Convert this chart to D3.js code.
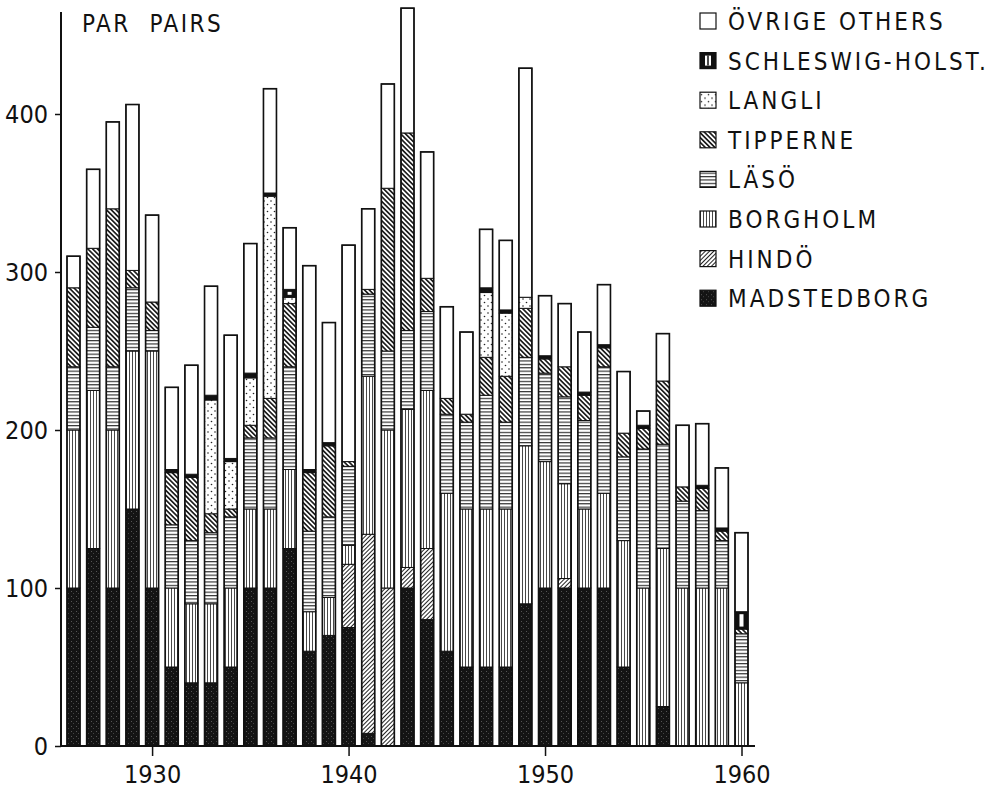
<!DOCTYPE html>
<html>
<head>
<meta charset="utf-8">
<script src="https://cdn.jsdelivr.net/npm/d3@7"></script>
<style>
  body { margin: 0; background: #fff; }
  svg text { font-family: "DejaVu Sans Condensed", "DejaVu Sans", sans-serif; fill: #111; }
</style>
</head>
<body>
<div id="chart"></div>
<script>
// breeding pairs per colony, 1926-1960
var years = [1926,1927,1928,1929,1930,1931,1932,1933,1934,1935,1936,1937,1938,1939,1940,1941,1942,1943,
             1944,1945,1946,1947,1948,1949,1950,1951,1952,1953,1954,1955,1956,1957,1958,1959,1960];
var madstedborg = [100,125,100,150,100,50,40,40,50,100,100,125,60,70,75,8,0,100,80,60,50,50,50,90,100,100,100,100,50,0,25,0,0,0,0];
var hindo       = [0,0,0,0,0,0,0,0,0,0,0,0,0,0,40,126,100,13,45,0,0,0,0,0,0,6,0,0,0,0,0,0,0,0,0];
var borgholm    = [100,100,100,100,150,50,50,50,50,50,50,50,25,24,12,100,100,100,100,100,100,100,100,100,80,60,50,60,80,100,100,100,100,100,40];
var laso        = [40,40,40,40,13,40,40,45,45,45,45,65,51,51,50,52,50,50,50,50,55,72,55,56,56,55,56,80,53,88,66,55,49,30,31];
var tipperne    = [50,50,100,11,18,33,40,12,5,8,25,40,37,45,3,3,103,125,21,10,5,24,29,31,9,19,16,12,15,13,40,9,14,6,3];
var langli      = [0,0,0,0,0,0,0,72,30,30,128,4,0,0,0,0,0,0,0,0,0,41,40,7,0,0,0,0,0,0,0,0,0,0,0];
var schleswig   = [0,0,0,0,0,2,2,3,2,3,2,5,2,2,0,0,0,0,0,0,0,3,2,0,2,0,2,2,0,2,0,0,2,2,11];
var ovrige      = [20,50,55,105,55,52,69,69,78,82,66,39,129,76,137,51,66,79,80,58,52,37,44,145,38,40,38,38,39,9,30,39,39,38,50];

var keys = ["mad","hin","bor","las","tip","lan","sch","ovr"];
var legendLabels = ["ÖVRIGE OTHERS","SCHLESWIG-HOLST.","LANGLI","TIPPERNE","LÄSÖ","BORGHOLM","HINDÖ","MADSTEDBORG"];
var legendKeys = ["ovr","sch","lan","tip","las","bor","hin","mad"];
var yTicks = [0,100,200,300,400];
var xTicks = [1930,1940,1950,1960];

var width = 1007, height = 789;

var rows = years.map(function(y, i) {
  return { year: y, mad: madstedborg[i], hin: hindo[i], bor: borgholm[i], las: laso[i],
           tip: tipperne[i], lan: langli[i], sch: schleswig[i], ovr: ovrige[i] };
});

var svg = d3.select("#chart").append("svg")
  .attr("width", width)
  .attr("height", height);

var defs = svg.append("defs");

// dark speckled fill
var pm = defs.append("pattern").attr("id", "p-mad").attr("patternUnits", "userSpaceOnUse")
  .attr("width", 5).attr("height", 5);
pm.append("rect").attr("width", 5).attr("height", 5).attr("fill", "#141414");
pm.append("rect").attr("x", 1).attr("y", 1).attr("width", 1).attr("height", 1).attr("fill", "#555");
pm.append("rect").attr("x", 3).attr("y", 3).attr("width", 1).attr("height", 1).attr("fill", "#444");

// diagonal "/" fine
var ph = defs.append("pattern").attr("id", "p-hin").attr("patternUnits", "userSpaceOnUse")
  .attr("width", 3).attr("height", 6).attr("patternTransform", "rotate(45)");
ph.append("rect").attr("width", 3).attr("height", 6).attr("fill", "#fff");
ph.append("line").attr("x1", 1.5).attr("x2", 1.5).attr("y1", 0).attr("y2", 6).attr("stroke", "#222").attr("stroke-width", 1);

// vertical lines
var pb = defs.append("pattern").attr("id", "p-bor").attr("patternUnits", "userSpaceOnUse")
  .attr("width", 3).attr("height", 6);
pb.append("rect").attr("width", 3).attr("height", 6).attr("fill", "#fff");
pb.append("line").attr("x1", 0.5).attr("x2", 0.5).attr("y1", 0).attr("y2", 6).attr("stroke", "#333").attr("stroke-width", 0.9);

// horizontal lines
var pl = defs.append("pattern").attr("id", "p-las").attr("patternUnits", "userSpaceOnUse")
  .attr("width", 6).attr("height", 3.4);
pl.append("rect").attr("width", 6).attr("height", 3.4).attr("fill", "#fff");
pl.append("line").attr("x1", 0).attr("x2", 6).attr("y1", 0.6).attr("y2", 0.6).attr("stroke", "#222").attr("stroke-width", 1.1);

// diagonal "\" bold
var pt = defs.append("pattern").attr("id", "p-tip").attr("patternUnits", "userSpaceOnUse")
  .attr("width", 3.4).attr("height", 6).attr("patternTransform", "rotate(-45)");
pt.append("rect").attr("width", 3.4).attr("height", 6).attr("fill", "#fff");
pt.append("line").attr("x1", 1.7).attr("x2", 1.7).attr("y1", 0).attr("y2", 6).attr("stroke", "#111").attr("stroke-width", 1.6);

// dots
var pd = defs.append("pattern").attr("id", "p-lan").attr("patternUnits", "userSpaceOnUse")
  .attr("width", 7).attr("height", 7);
pd.append("rect").attr("width", 7).attr("height", 7).attr("fill", "#fff");
pd.append("circle").attr("cx", 1.5).attr("cy", 1.5).attr("r", 0.8).attr("fill", "#222");
pd.append("circle").attr("cx", 5).attr("cy", 5).attr("r", 0.8).attr("fill", "#222");

var fills = { mad: "url(#p-mad)", hin: "url(#p-hin)", bor: "url(#p-bor)", las: "url(#p-las)",
              tip: "url(#p-tip)", lan: "url(#p-lan)", sch: "#111", ovr: "#fff" };

var x = d3.scaleLinear().domain([1926, 1960]).range([73.5, 741.5]);
var y = d3.scaleLinear().domain([0, 400]).range([746, 114]);
var barW = 13;

var stack = d3.stack().keys(keys);
var series = stack(rows);

var g = svg.append("g");

series.forEach(function(s) {
  var key = s.key;
  var sel = g.selectAll(".seg-" + key)
    .data(s.filter(function(d) { return d[1] - d[0] > 0; }))
    .enter().append("g")
      .attr("class", "seg-" + key);

  sel.append("rect")
    .attr("x", function(d) { return x(d.data.year) - barW / 2; })
    .attr("y", function(d) { return y(d[1]); })
    .attr("width", barW)
    .attr("height", function(d) { return y(d[0]) - y(d[1]); })
    .attr("fill", fills[key])
    .attr("stroke", "#111")
    .attr("stroke-width", 1);

  if (key === "sch") {
    // white slot inside the black block
    sel.filter(function(d) { return y(d[0]) - y(d[1]) > 5; })
      .append("rect")
      .attr("x", function(d) { return x(d.data.year) - 2; })
      .attr("y", function(d) { return y(d[1]) + 2.5; })
      .attr("width", 4)
      .attr("height", function(d) { return y(d[0]) - y(d[1]) - 5; })
      .attr("fill", "#fff");
  }
});

// bar outlines
g.selectAll(".outline")
  .data(rows)
  .enter().append("rect")
    .attr("class", "outline")
    .attr("x", function(d) { return x(d.year) - barW / 2; })
    .attr("y", function(d) { return y(d3.sum(keys, function(k) { return d[k]; })); })
    .attr("width", barW)
    .attr("height", function(d) { return y(0) - y(d3.sum(keys, function(k) { return d[k]; })); })
    .attr("fill", "none")
    .attr("stroke", "#111")
    .attr("stroke-width", 1.6);

// axes
var yAxis = svg.append("g")
  .attr("transform", "translate(61,0)")
  .call(d3.axisLeft(y).tickValues(yTicks).tickSize(6).tickPadding(7).tickFormat(d3.format("d")));
yAxis.select(".domain").remove();
yAxis.selectAll(".tick line").attr("stroke", "#111").attr("stroke-width", 1.5);
yAxis.selectAll("text").style("font-size", "25px").attr("fill", "#111");

svg.append("line")
  .attr("x1", 61).attr("x2", 61).attr("y1", 12).attr("y2", 747)
  .attr("stroke", "#111").attr("stroke-width", 2);

var xAxis = svg.append("g")
  .attr("transform", "translate(0,746)")
  .call(d3.axisBottom(x).tickValues(xTicks).tickSize(10).tickPadding(9).tickFormat(d3.format("d")));
xAxis.select(".domain").remove();
xAxis.selectAll(".tick line").attr("stroke", "#111").attr("stroke-width", 1.5);
xAxis.selectAll("text").style("font-size", "25px").attr("fill", "#111");

svg.append("line")
  .attr("x1", 60).attr("x2", 755).attr("y1", 746).attr("y2", 746)
  .attr("stroke", "#111").attr("stroke-width", 1.8);

svg.append("text")
  .attr("x", 82).attr("y", 32)
  .style("font-size", "24px")
  .style("letter-spacing", "2.5px")
  .attr("xml:space", "preserve")
  .text("PAR  PAIRS");

// legend
var leg = svg.append("g").attr("class", "legend");
var items = leg.selectAll("g")
  .data(legendKeys)
  .enter().append("g")
    .attr("transform", function(d, i) { return "translate(700," + (21 + i * 39.6) + ")"; });

items.append("rect")
  .attr("x", 0).attr("y", -8).attr("width", 16).attr("height", 16)
  .attr("fill", function(d) { return fills[d]; })
  .attr("stroke", "#111").attr("stroke-width", 1.2);

items.filter(function(d) { return d === "sch"; })
  .append("rect")
  .attr("x", 5).attr("y", -5).attr("width", 6).attr("height", 10).attr("fill", "#fff");
items.filter(function(d) { return d === "sch"; })
  .append("line")
  .attr("x1", 8).attr("x2", 8).attr("y1", -5).attr("y2", 5).attr("stroke", "#111").attr("stroke-width", 1.5);

items.append("text")
  .attr("x", 28).attr("y", 9)
  .style("font-size", "24px")
  .style("letter-spacing", "3px")
  .text(function(d, i) { return legendLabels[i]; });
</script>
</body>
</html>
